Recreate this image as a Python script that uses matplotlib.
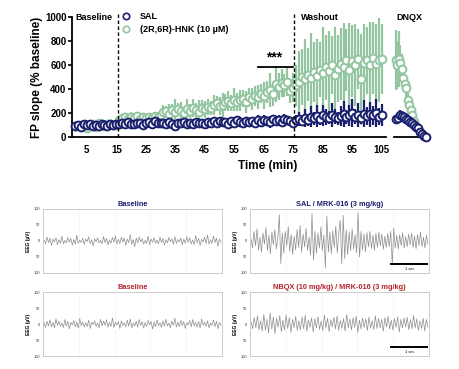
import numpy as np
import matplotlib
matplotlib.use("Agg")
import matplotlib.pyplot as plt
from matplotlib.lines import Line2D

plt.rcParams["font.family"] = ["Liberation Sans", "DejaVu Sans"]

# ---- top panel: FP slope, one value per minute ----
minutes = np.arange(1, 106)

hnk_mean = [95, 90, 102, 88, 75, 98, 110, 85, 120, 100, 92, 105, 110, 98, 104,
            140, 155, 165, 150, 170, 160, 175, 150, 165, 158, 170, 162, 175, 168, 180,
            205, 215, 195, 225, 210, 230, 220, 200, 235, 215, 240, 225, 210, 245, 230,
            250, 240, 265, 280, 255, 270, 290, 300, 285, 310, 295, 305, 320, 290, 330,
            315, 340, 330, 360, 345, 375, 390, 360, 440, 420, 450, 430, 460, 380, 410,
            430, 460, 500, 480, 520, 490, 540, 510, 560, 530, 580, 550, 600, 520, 570,
            610, 580, 640, 560, 630, 600, 650, 480, 620, 640, 600, 660, 610, 640, 650]
hnk_err = [20, 25, 18, 30, 22, 28, 15, 26, 20, 24, 18, 30, 22, 25, 20,
           30, 25, 35, 28, 40, 30, 32, 25, 38, 30, 28, 35, 30, 42, 35,
           60, 45, 80, 50, 110, 55, 70, 48, 85, 60, 75, 55, 100, 65, 70,
           70, 60, 85, 65, 75, 100, 70, 80, 65, 95, 75, 85, 70, 90, 80,
           90, 85, 100, 80, 110, 90, 140, 100, 150, 110, 120, 95, 115, 100, 120,
           170, 260, 230, 340, 220, 380, 250, 310, 230, 390, 270, 330, 240, 400, 280,
           300, 370, 260, 390, 300, 340, 250, 380, 320, 280, 360, 300, 330, 350, 290]

sal_mean = [92, 100, 85, 105, 98, 110, 95, 102, 88, 108, 100, 95, 112, 98, 105,
            110, 118, 105, 125, 112, 108, 120, 115, 102, 118, 125, 110, 130, 115, 120,
            118, 105, 125, 112, 95, 120, 115, 128, 110, 118, 105, 125, 115, 120, 112,
            125, 118, 130, 115, 135, 122, 128, 110, 132, 120, 138, 125, 118, 130, 126,
            135, 120, 140, 128, 145, 130, 122, 148, 135, 140, 128, 150, 138, 132, 118,
            140, 150, 135, 160, 145, 170, 155, 175, 150, 180, 165, 160, 185, 170, 155,
            175, 190, 165, 180, 200, 170, 185, 160, 195, 175, 190, 180, 200, 170, 185]
sal_err = [12, 15, 10, 18, 14, 12, 16, 10, 15, 12, 18, 14, 12, 16, 10,
           15, 20, 18, 22, 16, 20, 25, 18, 22, 20, 18, 25, 20, 22, 18,
           20, 25, 22, 18, 25, 20, 28, 22, 25, 20, 24, 28, 22, 25, 20,
           25, 30, 28, 35, 25, 30, 28, 32, 35, 30, 28, 35, 30, 32, 28,
           30, 35, 40, 32, 38, 35, 50, 35, 40, 45, 38, 42, 40, 35, 30,
           45, 60, 40, 75, 50, 85, 55, 95, 50, 90, 65, 55, 100, 60, 55,
           80, 110, 60, 90, 115, 65, 100, 55, 110, 75, 105, 80, 115, 70, 90]

# DNQX segment
hnk_dnqx_t = [109.8, 110.3, 110.8, 111.4, 111.9, 112.4, 112.9, 113.4, 113.9,
              114.4, 114.9, 115.4, 115.9, 116.6]
hnk_dnqx_mean = [640, 600, 650, 620, 570, 490, 445, 405, 310, 265, 225, 180, 130, 95]
hnk_dnqx_err = [250, 200, 230, 150, 120, 100, 80, 70, 60, 50, 40, 30, 25, 20]

sal_dnqx_t = [109.8, 110.5, 111.2, 111.9, 112.5, 113.2, 113.9, 114.6, 115.3,
              115.9, 116.6, 117.3, 118.0, 118.6, 119.3, 120.0]
sal_dnqx_mean = [150, 160, 183, 175, 170, 150, 141, 125, 114, 100, 85, 72, 44, 25, 10, 0]
sal_dnqx_err = [30, 35, 40, 35, 30, 28, 25, 22, 20, 18, 15, 12, 10, 8, 6, 5]

x_ticks = [5, 15, 25, 35, 45, 55, 65, 75, 85, 95, 105]
y_ticks = [0, 200, 400, 600, 800, 1000]
phase_lines = [15.5, 75.3]
sig_start, sig_end, sig_y = 63, 75, 583

# ---- bottom panels: EEG traces (uV) ----
eeg_sal_base = [3, -8, 12, -5, 9, -14, 6, -3, 10, -12, 4, -7, 15, -9, 2, -6, 11, -4, 8, -13,
                5, -10, 18, -7, 3, -5, 9, -11, 6, -2, 13, -8, 4, -15, 7, -3, 10, -6, 2, -9,
                14, -5, 8, -12, 3, -7, 11, -4, 16, -10, 5, -8, 12, -3, 9, -14, 6, -5, 20, -11,
                4, -18, 9, -6, 13, -3, 7, -10, 2, -8, 15, -12, 6, -4, 10, -7, 3, -9, 12, -5,
                8, -13, 4, -6, 11, -2, 7, -10, 14, -8, 5, -3, 9, -12, 6, -7, 13, -4, 10, -9,
                3, -11, 17, -6, 8, -14, 5, -3, 12, -8, 19, -10, 4, -7, 15, -5, 9, -16, 6, -3]
eeg_sal_mrk = [5, -22, 30, -15, 38, -28, 12, -35, 25, -10,
               42, -30, 18, -40, 28, -12, 35, -25, 10, 82,
               -70, 25, -38, 30, -15, 45, -32, 20, -42, 15,
               -28, 36, -20, 48, -35, 22, -18, 40, -30, 12,
               -45, 85, -60, 30, -38, 25, -22, 44, -30, 18,
               -85, 78, -35, 28, -40, 32, -20, 46, -38, 24,
               65, -72, 80, -55, 35, -42, 28, -30, 38, -25,
               20, -36, 88, -50, 30, -28, 22, -34, 26, -18,
               30, -24, 18, -30, 25, -20, 28, -15, 22, -26,
               15, -20, 24, -18, 30, -75, 40, -22, 18, -25,
               20, -15, 26, -22, 14, -18, 22, -12, 25, -20,
               16, -24, 20, -14, 28, -18, 12, -22, 18, -10]
eeg_nbqx_base = [4, -10, 8, -6, 13, -9, 5, -12, 16, -4, 9, -7, 3, -11, 14, -6, 8, -15, 5, -3,
                 11, -9, 6, -13, 17, -5, 7, -10, 4, -8, 12, -14, 6, -2, 10, -7, 3, -12, 15, -6,
                 9, -4, 13, -10, 5, -8, 19, -11, 6, -3, 8, -14, 10, -5, 4, -9, 12, -7, 16, -12,
                 3, -6, 9, -10, 14, -4, 7, -13, 5, -8, 11, -3, 8, -16, 6, -9, 13, -5, 4, -11,
                 10, -7, 15, -6, 3, -12, 9, -4, 18, -10, 6, -8, 12, -5, 7, -14, 4, -3, 11, -9,
                 14, -6, 5, -10, 8, -13, 16, -4, 6, -7, 10, -12, 3, -5, 13, -8, 9, -15, 5, -4]
eeg_nbqx_mrk = [6, -15, 20, -12, 25, -18, 10, -22, 30, -20, 14, -28, 35, -16, 22, -30, 18, -10,
                26, -24, 12, -19, 28, -14, 20, -26, 15, -12, 24, -20, 10, -18, 22, -15, 27, -22,
                13, -10, 19, -25, 16, -12, 23, -17, 9, -21, 28, -13, 18, -24, 14, -9, 21, -16,
                25, -20, 11, -14, 17, -22, 30, -12, 15, -18, 20, -10, 24, -26, 12, -15, 19, -11,
                16, -20, 22, -13, 10, -17, 26, -14, 18, -12, 14, -22, 20, -9, 24, -16, 12, -19,
                17, -11, 22, -25, 15, -13, 19, -10, 21, -18, 13, -15, 26, -12, 16, -20, 10, -14,
                18, -22, 14, -9]

eeg_ticks = [-100, -50, 0, 50, 100]
eeg_ticklabels = ["100", "50", "0", "50", "100"]

NAVY = "#1a1f6e"
GREEN = "#93c6a0"
RED = "#b3232e"

fig = plt.figure(figsize=(4.6, 3.69), dpi=100)

ax = fig.add_axes([72 / 460, 232 / 369, 314 / 460, 120 / 369])
axd = fig.add_axes([394 / 460, 232 / 369, 33 / 460, 120 / 369])

ekw = dict(fmt="o", ms=5.6, mfc="white", mew=1.4, elinewidth=1.6, capsize=0, clip_on=False)
for a, (ht, hm, he, st, sm, se) in [
    (ax, (minutes, hnk_mean, hnk_err, minutes, sal_mean, sal_err)),
    (axd, (hnk_dnqx_t, hnk_dnqx_mean, hnk_dnqx_err, sal_dnqx_t, sal_dnqx_mean, sal_dnqx_err)),
]:
    a.errorbar(ht, hm, yerr=he, mec=GREEN, ecolor=GREEN, zorder=2, **ekw)
    a.errorbar(st, sm, yerr=se, mec=NAVY, ecolor=NAVY, zorder=3, **ekw)
    a.set_ylim(0, 1000)
    a.spines[["top", "right"]].set_visible(False)
    for s in ("left", "bottom"):
        a.spines[s].set_linewidth(1.3)

ax.set_xlim(0, 106.4)
ax.set_xticks(x_ticks)
ax.set_yticks(y_ticks)
ax.tick_params(axis="x", length=0, pad=5.5, labelsize=7)
ax.tick_params(axis="y", length=3, width=1.2, pad=1, labelsize=7)
for lab in ax.get_xticklabels() + ax.get_yticklabels():
    lab.set_fontweight("bold")

axd.set_xlim(109.2, 120.4)
axd.spines["left"].set_visible(False)
axd.spines["bottom"].set_bounds(109.2, 119.4)
axd.set_xticks([])
axd.set_yticks([])
axd.patch.set_visible(False)

for x in phase_lines:
    ax.axvline(x, ymin=0, ymax=1.04, color="black", ls=(0, (2.5, 1.8)), lw=1.0,
               clip_on=False, zorder=4)

ax.plot([sig_start, sig_end], [sig_y, sig_y], color="black", lw=1.3)
ax.text((sig_start + sig_end) / 2 - 0.5, sig_y + 25, "***", ha="center", va="bottom",
        fontsize=10, fontweight="bold")

ax.text(1.3, 1000, "Baseline", fontsize=6.5, fontweight="bold", va="center")
ax.text(77.5, 1000, "Washout", fontsize=6.5, fontweight="bold", va="center")
axd.text(110.0, 1000, "DNQX", fontsize=6.5, fontweight="bold", va="center")

handles = [Line2D([], [], ls="none", marker="o", ms=4.6, mfc="white", mec=c, mew=1.2)
           for c in (NAVY, GREEN)]
fig.legend(handles, ["SAL", "(2R,6R)-HNK (10 µM)"], loc="upper left",
           bbox_to_anchor=(121 / 460, 1 - 12 / 369), frameon=False, fontsize=6.5,
           handlelength=1.0, handletextpad=1.1, borderpad=0, borderaxespad=0,
           labelspacing=0.45, prop=dict(weight="bold", size=6.5))

fig.text(37 / 460, 1 - 77 / 369, "FP slope (% baseline)", rotation=90, ha="center",
         va="center", fontsize=8.5, fontweight="bold")
fig.text(268 / 460, 1 - 166 / 369, "Time (min)", ha="center", va="center",
         fontsize=8.5, fontweight="bold")

# ---- EEG panels ----
panels = [
    ([43, 209, 179, 64], eeg_sal_base, "Baseline", NAVY, False),
    ([250, 209, 179, 64], eeg_sal_mrk, "SAL / MRK-016 (3 mg/kg)", NAVY, True),
    ([43, 292, 179, 64], eeg_nbqx_base, "Baseline", RED, False),
    ([250, 292, 179, 64], eeg_nbqx_mrk, "NBQX (10 mg/kg) / MRK-016 (3 mg/kg)", RED, True),
]
for (x0, y0, w, h), trace, title, tcol, scalebar in panels:
    e = fig.add_axes([x0 / 460, 1 - (y0 + h) / 369, w / 460, h / 369])
    tx = np.linspace(0.03, 4.97, len(trace))
    e.plot(tx, trace, color="#8e8e8e", lw=0.5)
    e.set_xlim(0, 5)
    e.set_ylim(-100, 100)
    e.set_xticks([1, 2, 3, 4])
    e.set_xticklabels([])
    e.grid(axis="x", color="#f0f0f0", lw=0.4)
    e.set_yticks(eeg_ticks)
    e.set_yticklabels(eeg_ticklabels)
    e.tick_params(length=0, labelsize=2.8, pad=2, labelcolor="#333333")
    e.set_ylabel("EEG (µV)", fontsize=3.5, fontweight="bold", labelpad=2)
    for s in e.spines.values():
        s.set_color("#c4c4c4")
        s.set_linewidth(0.6)
    e.set_title(title, color=tcol, fontsize=5.3, fontweight="bold", pad=2)
    if scalebar:
        e.plot([3.95, 4.95], [-72, -72], color="black", lw=1.4)
        e.text(4.45, -88, "1 sec", ha="center", va="center", fontsize=2.8)

fig.savefig("out.png", dpi=100)
